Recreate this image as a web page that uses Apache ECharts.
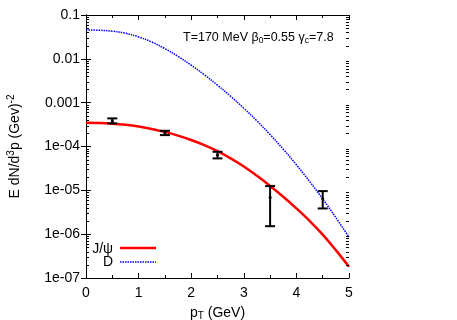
<!DOCTYPE html>
<html>
<head>
<meta charset="utf-8">
<script src="https://cdn.jsdelivr.net/npm/echarts@6/dist/echarts.min.js"></script>
<style>
  html, body { margin: 0; padding: 0; background: #fff; }
  #chart { width: 457px; height: 320px; }
</style>
</head>
<body>
<div id="chart"></div>
<script>
// pT points (GeV) where the model curves were read
const ptGrid = [0, 0.25, 0.5, 0.75, 1, 1.25, 1.5, 1.75, 2, 2.25, 2.5,
                2.75, 3, 3.25, 3.5, 3.75, 4, 4.25, 4.5, 4.75, 5];

// model curves
const jpsiModel = [3.475e-4, 3.436e-4, 3.319e-4, 3.119e-4, 2.844e-4, 2.518e-4, 2.153e-4,
                   1.774e-4, 1.409e-4, 1.074e-4, 7.82e-5, 5.37e-5, 3.51e-5, 2.14e-5,
                   1.26e-5, 7.16e-6, 3.89e-6, 2.02e-6, 9.77e-7, 4.32e-7, 1.81e-7];
const dModel = [0.0455, 0.0449, 0.0427, 0.0383, 0.0316, 0.0242, 0.0171,
                0.01135, 7.16e-3, 4.33e-3, 2.51e-3, 1.40e-3, 7.48e-4, 3.84e-4,
                1.87e-4, 8.69e-5, 3.83e-5, 1.60e-5, 6.35e-6, 2.39e-6, 8.55e-7];

// J/psi data points with error bars
const dataPt   = [0.5, 1.5, 2.5, 3.5, 4.5];
const dataVal  = [3.86e-4, 2.04e-4, 6.37e-5, 6.88e-6, 6.53e-6];
const dataLow  = [3.37e-4, 1.82e-4, 5.35e-5, 1.52e-6, 3.86e-6];
const dataHigh = [4.38e-4, 2.28e-4, 7.57e-5, 1.25e-5, 9.6e-6];

// tick labels
const xTickLabels = ['0', '1', '2', '3', '4', '5'];
const yTickLabels = ['1e-07', '1e-06', '1e-05', '1e-04', '0.001', '0.01', '0.1'];

const FONT = '"Liberation Sans", Arial, sans-serif';

// minor ticks of the log axis (2..9 in each decade)
const minorVals = [];
for (let e = -7; e < -1; e++) {
    for (let k = 2; k <= 9; k++) minorVals.push(k * Math.pow(10, e));
}

const chart = echarts.init(document.getElementById('chart'));

const baseX = {
    type: 'value', min: 0, max: 5, interval: 1,
    axisLine: { lineStyle: { color: '#000', width: 1 } },
    axisTick: { inside: true, length: 5, lineStyle: { color: '#000' } },
    minorTick: { show: true, splitNumber: 2, length: 3, lineStyle: { color: '#000' } },
    splitLine: { show: false }
};
const baseY = {
    type: 'log', logBase: 10, min: 1e-7, max: 0.1,
    axisLine: { lineStyle: { color: '#000', width: 1 } },
    axisTick: { inside: true, length: 5, lineStyle: { color: '#000' } },
    splitLine: { show: false }
};

const option = {
    animation: false,
    backgroundColor: '#fff',
    textStyle: { fontFamily: FONT },
    grid: { left: 86, right: 108, top: 15, bottom: 42, outerBoundsMode: 'none' },
    xAxis: [
        Object.assign({}, baseX, {
            position: 'bottom',
            axisLabel: {
                color: '#000', fontSize: 14, fontFamily: FONT, margin: 8,
                formatter: v => xTickLabels[Math.round(v)]
            },
            name: 'p{sub|T} (GeV)',
            nameLocation: 'middle',
            nameGap: 26,
            nameTextStyle: {
                color: '#000', fontSize: 14, fontFamily: FONT, lineHeight: 16,
                rich: { sub: { fontSize: 10, fontFamily: FONT, lineHeight: 10, verticalAlign: 'bottom' } }
            }
        }),
        Object.assign({}, baseX, { position: 'top', axisLabel: { show: false } })
    ],
    yAxis: [
        Object.assign({}, baseY, {
            position: 'left',
            axisLabel: {
                color: '#000', fontSize: 14, fontFamily: FONT, margin: 6,
                formatter: v => yTickLabels[Math.round(Math.log10(v)) + 7]
            },
            name: 'E dN/d{sup|3}p (Gev){sup|-2}',
            nameLocation: 'middle',
            nameRotate: 90,
            nameGap: 62,
            nameTextStyle: {
                color: '#000', fontSize: 14, fontFamily: FONT, lineHeight: 18,
                rich: { sup: { fontSize: 10, fontFamily: FONT, lineHeight: 10, verticalAlign: 'top' } }
            }
        }),
        Object.assign({}, baseY, { position: 'right', axisLabel: { show: false } })
    ],
    series: [
        {
            name: 'J/ψ',
            type: 'line',
            data: ptGrid.map((x, i) => [x, jpsiModel[i]]),
            smooth: 0.4,
            symbol: 'none',
            lineStyle: { color: '#ff0000', width: 2.5 },
            clip: true,
            z: 3
        },
        {
            name: 'D',
            type: 'line',
            data: ptGrid.map((x, i) => [x, dModel[i]]),
            smooth: 0.4,
            symbol: 'none',
            lineStyle: { color: '#0000ff', width: 1.5, type: [1.5, 1] },
            clip: true,
            z: 3
        },
        {
            // error bars of the data points
            type: 'custom',
            data: dataPt.map((x, i) => [x, dataVal[i], dataLow[i], dataHigh[i]]),
            encode: { x: 0, y: 1 },
            z: 5,
            renderItem: (params, api) => {
                const c = api.coord([api.value(0), api.value(1)]);
                const lo = api.coord([api.value(0), api.value(2)]);
                const hi = api.coord([api.value(0), api.value(3)]);
                const st = { stroke: '#000', lineWidth: 2 };
                return {
                    type: 'group',
                    children: [
                        { type: 'line', shape: { x1: c[0], y1: lo[1], x2: c[0], y2: hi[1] }, style: st },
                        { type: 'line', shape: { x1: c[0] - 5, y1: lo[1], x2: c[0] + 5, y2: lo[1] }, style: st },
                        { type: 'line', shape: { x1: c[0] - 5, y1: hi[1], x2: c[0] + 5, y2: hi[1] }, style: st },
                        { type: 'circle', shape: { cx: c[0], cy: c[1], r: 1.5 }, style: { fill: '#000' } }
                    ]
                };
            }
        },
        {
            // minor ticks on the left and right log axes
            type: 'custom',
            silent: true,
            data: minorVals.map(v => [0, v]),
            encode: { x: 0, y: 1 },
            z: 6,
            renderItem: (params, api) => {
                const l = api.coord([0, api.value(1)]);
                const r = api.coord([5, api.value(1)]);
                const st = { stroke: '#000', lineWidth: 1 };
                return {
                    type: 'group',
                    children: [
                        { type: 'line', shape: { x1: l[0], y1: Math.round(l[1]) + 0.5, x2: l[0] + 3, y2: Math.round(l[1]) + 0.5 }, style: st },
                        { type: 'line', shape: { x1: r[0] - 3, y1: Math.round(r[1]) + 0.5, x2: r[0], y2: Math.round(r[1]) + 0.5 }, style: st }
                    ]
                };
            }
        }
    ],
    graphic: [
        {
            type: 'text', left: 183, top: 30, z: 10,
            style: {
                text: 'T=170 MeV β{sub|0}=0.55 γ{sub|c}=7.8',
                fill: '#000', font: '12.5px ' + FONT, lineHeight: 15,
                rich: { sub: { fontSize: 8.5, fontFamily: FONT, lineHeight: 9, verticalAlign: 'bottom' } }
            }
        },
        // legend
        { type: 'text', z: 10, style: { text: 'J/ψ', x: 113, y: 249, textAlign: 'right', textVerticalAlign: 'middle', fill: '#000', font: '14px ' + FONT } },
        { type: 'line', z: 10, shape: { x1: 120, y1: 248, x2: 156, y2: 248 }, style: { stroke: '#ff0000', lineWidth: 2.5 } },
        { type: 'text', z: 10, style: { text: 'D', x: 113, y: 262, textAlign: 'right', textVerticalAlign: 'middle', fill: '#000', font: '14px ' + FONT } },
        { type: 'line', z: 10, shape: { x1: 120, y1: 262, x2: 156, y2: 262 }, style: { stroke: '#0000ff', lineWidth: 1.5, lineDash: [1.5, 1] } }
    ]
};

chart.setOption(option);
</script>
</body>
</html>
